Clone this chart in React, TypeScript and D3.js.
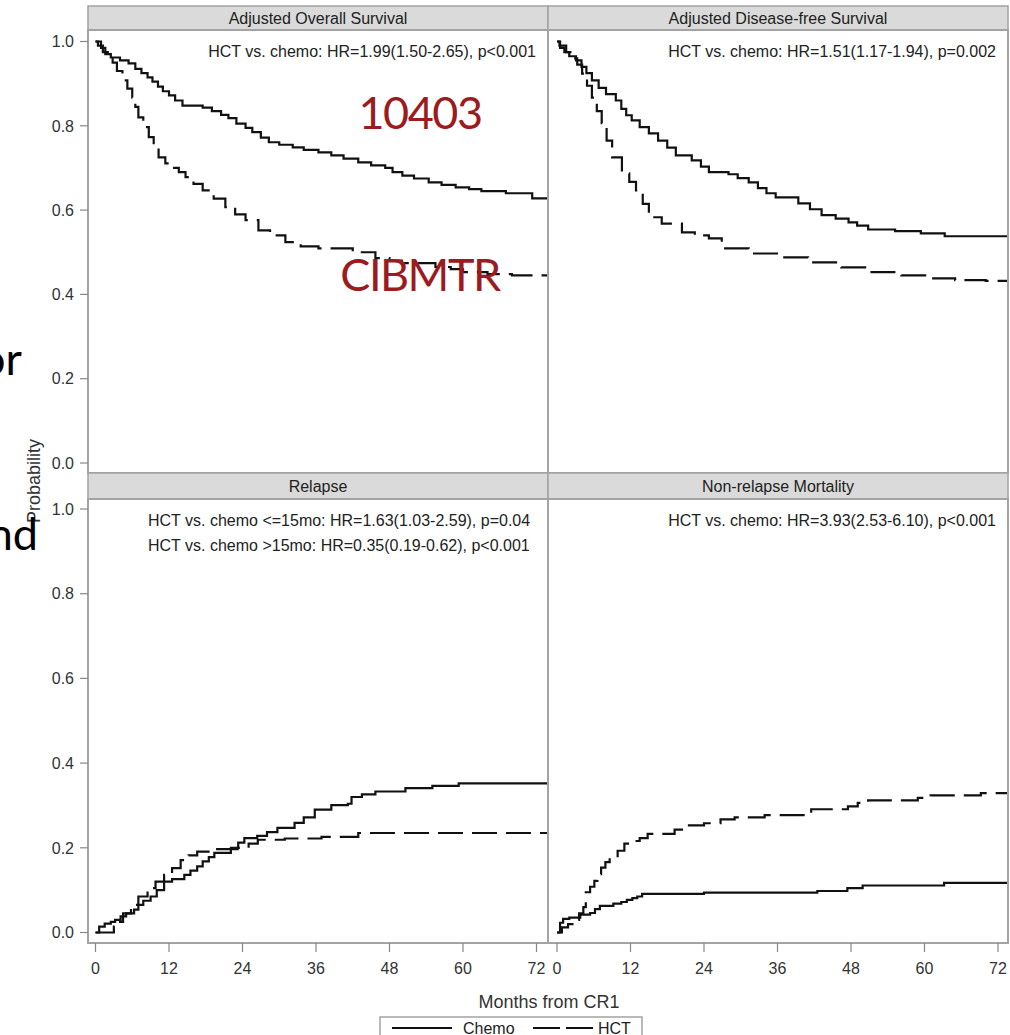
import React from 'react';
import * as d3 from 'd3';

type Pt = [number, number];

const monthTicks = [0, 12, 24, 36, 48, 60, 72];
const probTicks = [0, 0.2, 0.4, 0.6, 0.8, 1.0];
const panelTitles = [
  'Adjusted Overall Survival',
  'Adjusted Disease-free Survival',
  'Relapse',
  'Non-relapse Mortality',
];
const panelNotes: string[][] = [
  ['HCT vs. chemo: HR=1.99(1.50-2.65), p<0.001'],
  ['HCT vs. chemo: HR=1.51(1.17-1.94), p=0.002'],
  [
    'HCT vs. chemo <=15mo: HR=1.63(1.03-2.59), p=0.04',
    'HCT vs. chemo >15mo: HR=0.35(0.19-0.62), p<0.001',
  ],
  ['HCT vs. chemo: HR=3.93(2.53-6.10), p<0.001'],
];
const legendLabels = ['Chemo', 'HCT'];
const xAxisTitle = 'Months from CR1';
const yAxisTitle = 'Probability';
const overlayRed = ['10403', 'CIBMTR'];
const overlayBlack = ['or', 'nd'];

const osChemo: Pt[] = [
  [0, 1], [0.9, 0.985], [1.6, 0.97], [2.5, 0.962], [4, 0.955], [5.4, 0.948], [6.5, 0.935],
  [7.5, 0.925], [8.5, 0.915], [9.3, 0.905], [10.2, 0.893], [11, 0.882], [12, 0.872], [13, 0.86],
  [14.2, 0.848], [17.5, 0.843], [19, 0.835], [20.5, 0.826], [21.7, 0.818], [23, 0.805],
  [24.5, 0.795], [25.6, 0.785], [27, 0.772], [28.3, 0.761], [30, 0.755], [32.2, 0.749],
  [34, 0.743], [36.4, 0.737], [38.5, 0.73], [40.5, 0.722], [42.9, 0.713], [45, 0.706],
  [47.3, 0.7], [48.5, 0.69], [50.1, 0.682], [52, 0.675], [54.4, 0.666], [56.5, 0.66],
  [58.8, 0.654], [61, 0.65], [63, 0.645], [67, 0.64], [71.3, 0.628], [74, 0.628],
];
const osHct: Pt[] = [
  [0, 1], [0.4, 0.99], [1.2, 0.975], [2, 0.96], [2.8, 0.95], [3.5, 0.93], [4.4, 0.908],
  [5.2, 0.888], [6, 0.867], [6.5, 0.845], [7, 0.82], [7.8, 0.797], [8.7, 0.773], [9.5, 0.75],
  [10.3, 0.725], [11.4, 0.711], [12.5, 0.7], [13.6, 0.69], [14.7, 0.678], [16, 0.662],
  [17.5, 0.647], [19.3, 0.627], [21.2, 0.607], [22.8, 0.59], [24.5, 0.576], [26.6, 0.552],
  [28.5, 0.54], [31, 0.524], [33.5, 0.514], [36.4, 0.509], [42, 0.5], [45.7, 0.486],
  [48, 0.48], [50, 0.474], [55.5, 0.465], [58, 0.46], [60, 0.453], [64, 0.448], [68, 0.445],
  [74, 0.443],
];
const dfsChemo: Pt[] = [
  [0, 1], [0.5, 0.985], [1.2, 0.975], [2, 0.965], [3.1, 0.955], [4, 0.94], [4.8, 0.925],
  [5.7, 0.908], [6.8, 0.89], [8, 0.875], [9.6, 0.86], [10.5, 0.84], [11.3, 0.825],
  [12.2, 0.813], [13.5, 0.797], [15, 0.782], [16.5, 0.765], [18, 0.748], [19.4, 0.73],
  [22, 0.718], [23.5, 0.703], [24.8, 0.69], [28, 0.685], [29.5, 0.676], [31.3, 0.666],
  [32.8, 0.652], [34.2, 0.64], [35.7, 0.63], [39.4, 0.616], [41.3, 0.602], [43.2, 0.588],
  [45.5, 0.58], [47.6, 0.571], [49, 0.563], [50.8, 0.554], [55.2, 0.55], [59.4, 0.545],
  [63.3, 0.538], [74, 0.538],
];
const dfsHct: Pt[] = [
  [0, 1], [0.4, 0.99], [1.5, 0.975], [2.5, 0.96], [3.3, 0.945], [4.1, 0.924], [4.9, 0.895],
  [5.7, 0.867], [6.5, 0.835], [7.3, 0.806], [8.1, 0.765], [9, 0.725], [10.6, 0.687],
  [11.8, 0.667], [12.9, 0.647], [14, 0.615], [15, 0.583], [17.1, 0.568], [20.4, 0.547],
  [22.5, 0.54], [24.8, 0.533], [26.9, 0.509], [31.3, 0.497], [36.6, 0.488], [41, 0.476],
  [46.4, 0.464], [50.3, 0.453], [56.2, 0.445], [60.1, 0.438], [65, 0.434], [70, 0.432],
  [74, 0.432],
];
const relChemo: Pt[] = [
  [0, 0], [0.6, 0.014], [1.5, 0.021], [2.5, 0.025], [3.2, 0.03], [4.1, 0.038], [5, 0.045],
  [6.3, 0.054], [7, 0.065], [7.8, 0.075], [9, 0.085], [10, 0.1], [11.2, 0.12], [12.5, 0.126],
  [14.5, 0.136], [15.5, 0.146], [16.6, 0.156], [17.5, 0.168], [18.5, 0.178], [19.4, 0.188],
  [22.1, 0.2], [23.3, 0.212], [24.3, 0.223], [26.4, 0.228], [28, 0.237], [29.7, 0.247],
  [32.5, 0.259], [34, 0.272], [35.8, 0.29], [38.5, 0.301], [41.2, 0.304], [41.8, 0.32],
  [43.5, 0.326], [45.7, 0.333], [50.6, 0.341], [55, 0.346], [59.3, 0.352], [74, 0.352],
];
const relHct: Pt[] = [
  [0, 0], [3, 0.014], [3.6, 0.025], [4.5, 0.045], [5.8, 0.065], [7, 0.085], [8.5, 0.105],
  [9.8, 0.12], [11.2, 0.136], [12.5, 0.152], [13.9, 0.171], [15.2, 0.182], [16.6, 0.191],
  [19.4, 0.197], [23.2, 0.2], [25, 0.21], [26.5, 0.219], [30.9, 0.222], [36.9, 0.226],
  [42.9, 0.235], [74, 0.235],
];
const nrmChemo: Pt[] = [
  [0, 0], [0.5, 0.023], [1, 0.032], [2, 0.035], [3.8, 0.042], [5.4, 0.046], [6.2, 0.055],
  [7, 0.063], [9.2, 0.068], [10.5, 0.072], [11.4, 0.077], [12.3, 0.081], [13.1, 0.085],
  [13.9, 0.091], [24, 0.094], [42.5, 0.098], [47.4, 0.105], [49.9, 0.111], [63.2, 0.117],
  [74, 0.117],
];
const nrmHct: Pt[] = [
  [0, 0], [0.8, 0.012], [1.8, 0.02], [2.8, 0.03], [3.6, 0.045], [4.3, 0.06], [4.7, 0.095],
  [5.4, 0.108], [6.1, 0.122], [6.6, 0.138], [7.2, 0.153], [7.9, 0.166], [8.6, 0.177],
  [9.9, 0.193], [11, 0.21], [12.2, 0.216], [13.5, 0.223], [14.8, 0.233], [19.2, 0.243],
  [20.8, 0.253], [24, 0.258], [26.7, 0.267], [29, 0.272], [33.9, 0.277], [41.5, 0.291],
  [47.5, 0.298], [49.1, 0.306], [50.8, 0.312], [58.9, 0.318], [61, 0.324], [69.2, 0.329],
  [74, 0.33],
];

const chemoSeries = [osChemo, dfsChemo, relChemo, nrmChemo];
const hctSeries = [osHct, dfsHct, relHct, nrmHct];

const FONT = '"Liberation Sans", Arial, Helvetica, sans-serif';
const DASH = '25 9';
const BORDER = '#a3a3a3';

export default function App() {
  const cols = [
    { x0: 88, x1: 548, r0: 95.5, r1: 536.5 },
    { x0: 548, x1: 1008, r0: 557, r1: 998 },
  ];
  const rows = [
    { h0: 6, h1: 30, y0: 30, y1: 473, r0: 463, r1: 41.5 },
    { h0: 473, h1: 499, y0: 499, y1: 943, r0: 932.5, r1: 509 },
  ];

  const panels = [0, 1, 2, 3].map((i) => {
    const c = cols[i % 2];
    const r = rows[Math.floor(i / 2)];
    const x = d3.scaleLinear().domain([0, 72]).range([c.r0, c.r1]);
    const y = d3.scaleLinear().domain([0, 1]).range([r.r0, r.r1]);
    const line = d3
      .line<Pt>()
      .x((d) => x(d[0]))
      .y((d) => y(d[1]))
      .curve(d3.curveStepAfter);
    return { i, c, r, x, y, line };
  });

  return (
    <svg
      width={1010}
      height={1035}
      style={{ position: 'absolute', left: 0, top: 0, display: 'block', background: '#fff' }}
      fontFamily={FONT}
    >
      <defs>
        {panels.map((p) => (
          <clipPath id={`clip${p.i}`} key={p.i}>
            <rect x={p.c.x0} y={p.r.y0} width={p.c.x1 - p.c.x0} height={p.r.y1 - p.r.y0} />
          </clipPath>
        ))}
      </defs>
      <rect x={0} y={0} width={1010} height={1035} fill="#fff" />

      {panels.map((p) => (
        <g key={`panel${p.i}`}>
          <rect
            x={p.c.x0}
            y={p.r.y0}
            width={p.c.x1 - p.c.x0}
            height={p.r.y1 - p.r.y0}
            fill="#fff"
          />
          <g clipPath={`url(#clip${p.i})`} fill="none" stroke="#111" strokeWidth={2.2}>
            <path d={p.line(hctSeries[p.i]) || ''} strokeDasharray={DASH} />
            <path d={p.line(chemoSeries[p.i]) || ''} />
          </g>
          <rect
            x={p.c.x0}
            y={p.r.h0}
            width={p.c.x1 - p.c.x0}
            height={p.r.h1 - p.r.h0}
            fill="#dadada"
            stroke={BORDER}
            strokeWidth={1.5}
          />
          <text
            x={(p.c.x0 + p.c.x1) / 2}
            y={(p.r.h0 + p.r.h1) / 2}
            dy="0.36em"
            textAnchor="middle"
            fontSize={16}
            fill="#222"
          >
            {panelTitles[p.i]}
          </text>
          <rect
            x={p.c.x0}
            y={p.r.y0}
            width={p.c.x1 - p.c.x0}
            height={p.r.y1 - p.r.y0}
            fill="none"
            stroke={BORDER}
            strokeWidth={2}
          />
          {panelNotes[p.i].length === 1 ? (
            <text
              x={p.c.x1 - 12}
              y={p.r.y0 + 21}
              dy="0.36em"
              textAnchor="end"
              fontSize={16}
              fill="#222"
            >
              {panelNotes[p.i][0]}
            </text>
          ) : (
            panelNotes[p.i].map((t, k) => (
              <text
                key={k}
                x={148}
                y={p.r.y0 + 21 + k * 25}
                dy="0.36em"
                textAnchor="start"
                fontSize={16}
                fill="#222"
              >
                {t}
              </text>
            ))
          )}
          {p.i % 2 === 0 &&
            probTicks.map((t) => (
              <g key={`yt${t}`}>
                <line x1={80} x2={p.c.x0} y1={p.y(t)} y2={p.y(t)} stroke="#888" strokeWidth={1.2} />
                <text
                  x={74}
                  y={p.y(t)}
                  dy="0.36em"
                  textAnchor="end"
                  fontSize={16}
                  fill="#333"
                >
                  {t.toFixed(1)}
                </text>
              </g>
            ))}
          {p.i >= 2 &&
            monthTicks.map((t) => (
              <g key={`xt${t}`}>
                <line x1={p.x(t)} x2={p.x(t)} y1={p.r.y1} y2={p.r.y1 + 9} stroke="#888" strokeWidth={1.2} />
                <text
                  x={p.x(t)}
                  y={968}
                  dy="0.36em"
                  textAnchor="middle"
                  fontSize={16}
                  fill="#333"
                >
                  {t}
                </text>
              </g>
            ))}
        </g>
      ))}

      <text
        x={0}
        y={0}
        transform={`translate(34,481) rotate(-90)`}
        textAnchor="middle"
        dy="0.36em"
        fontSize={18}
        fill="#333"
      >
        {yAxisTitle}
      </text>
      <text x={549} y={1002} dy="0.36em" textAnchor="middle" fontSize={18} fill="#333">
        {xAxisTitle}
      </text>

      <g>
        <rect x={380} y={1017} width={262} height={30} fill="#fff" stroke={BORDER} strokeWidth={1.5} />
        <line x1={392} x2={452} y1={1028} y2={1028} stroke="#111" strokeWidth={2.2} />
        <text x={463} y={1028} dy="0.36em" fontSize={16} fill="#222">
          {legendLabels[0]}
        </text>
        <line x1={533} x2={593} y1={1028} y2={1028} stroke="#111" strokeWidth={2.2} strokeDasharray="27 6" />
        <text x={598} y={1028} dy="0.36em" fontSize={16} fill="#222">
          {legendLabels[1]}
        </text>
      </g>

      <g fontFamily='Lato, "Open Sans", sans-serif' fontSize={45} letterSpacing={-1.5}>
        <text x={420} y={129} textAnchor="middle" fill="#9b1b1e">
          {overlayRed[0]}
        </text>
        <text x={420} y={291} textAnchor="middle" fill="#9b1b1e">
          {overlayRed[1]}
        </text>
        <text x={22} y={375} textAnchor="end" fill="#000" letterSpacing={0}>
          {overlayBlack[0]}
        </text>
        <text x={38} y={550} textAnchor="end" fill="#000" letterSpacing={0}>
          {overlayBlack[1]}
        </text>
      </g>
    </svg>
  );
}
